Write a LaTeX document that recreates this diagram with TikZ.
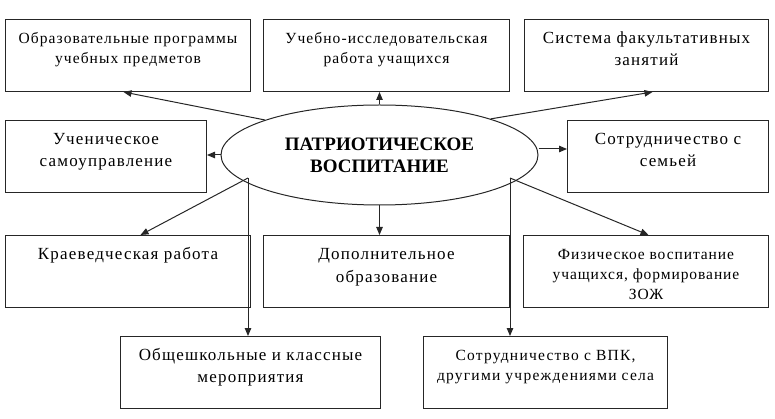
\documentclass[tikz,border=0pt]{standalone}
\usepackage{fontspec}
\setmainfont{Liberation Serif}
\usetikzlibrary{shapes.geometric,arrows.meta}
\newcommand\boxtext[6]{\parbox[c][#2pt][t]{#1pt}{\centering\fontsize{#3}{#4}\selectfont\addfontfeatures{LetterSpace=#5}\rule{0pt}{24pt}#6}}
\begin{document}
\begin{tikzpicture}[x=1pt,y=-1pt,
  box/.style={draw=black!85,line width=1pt,inner sep=0pt,anchor=north west},
  oval/.style={draw=black!85,line width=1pt,ellipse,inner sep=0pt,minimum width=317pt,minimum height=100pt,align=center,font=\fontsize{19}{22}\selectfont\bfseries},
  conn/.style={draw=black!85,line width=1pt,-{Triangle[length=8pt,width=6.5pt]}}]
\useasboundingbox (0,0) rectangle (775,419);
% boxes
\node[box] (b1) at (5,19) {\boxtext{245}{72}{15.5}{20}{7}{Образовательные программы\\учебных предметов}};
\node[box] (b2) at (263,19) {\boxtext{246}{72}{15.5}{20}{7}{Учебно-исследовательская\\работа учащихся}};
\node[box] (b3) at (524,19) {\boxtext{244}{72}{17}{22}{7}{Система факультативных\\занятий}};
\node[box] (b4) at (5,120) {\boxtext{201}{72}{17}{22}{7}{Ученическое\\самоуправление}};
\node[box] (b5) at (567,120) {\boxtext{201}{72}{17}{22}{7}{Сотрудничество с\\семьей}};
\node[box] (b6) at (5,235) {\boxtext{245}{72}{17}{22}{7}{Краеведческая работа}};
\node[box] (b7) at (263,235) {\boxtext{246}{72}{17}{23}{7}{Дополнительное\\образование}};
\node[box] (b8) at (523,235) {\boxtext{245}{72}{15.5}{20}{6}{Физическое воспитание\\учащихся, формирование\\ЗОЖ}};
\node[box] (b9) at (120,336) {\boxtext{260}{72}{17}{22}{7}{Общешкольные и классные\\мероприятия}};
\node[box] (b10) at (423,336) {\boxtext{244}{72}{15.5}{20}{8}{Сотрудничество с ВПК,\\другими учреждениями села}};
% centre
\node[oval] (e) at (379.5,155) {ПАТРИОТИЧЕСКОЕ\\ВОСПИТАНИЕ};
\coordinate (eL) at (248,178);
\coordinate (eR) at (510,178);
% connectors
\draw[conn] (e.163) -- ([xshift=-4.5pt]b1.south);
\draw[conn] (e.north) -- (e.north |- b2.south);
\draw[conn] (e.18) -- ([xshift=6pt]b3.south);
\draw[conn] (e.west) -- (e.west -| b4.east);
\draw[conn] ([yshift=6pt]e.east) -- ([yshift=6pt]e.east -| b5.west);
\draw[conn] (eL) -- ([xshift=12.5pt]b6.north);
\draw[conn] (eL) -- (eL |- b9.north);
\draw[conn] (e.south) -- (e.south |- b7.north);
\draw[conn] (eR) -- ([xshift=2.5pt]b8.north);
\draw[conn] (eR) -- (eR |- b10.north);
\end{tikzpicture}
\end{document}
